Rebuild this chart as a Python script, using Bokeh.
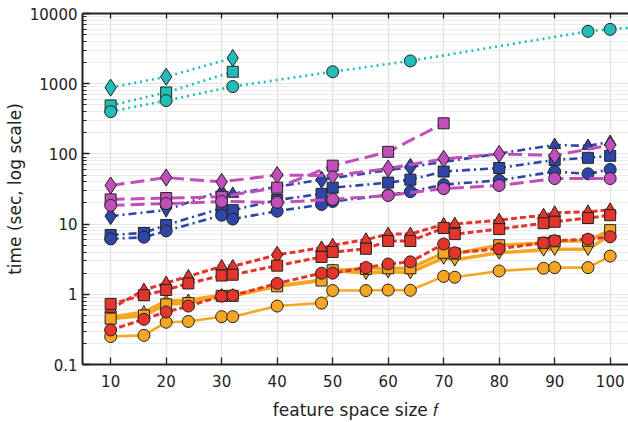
from bokeh.plotting import figure
from bokeh.models import FixedTicker, LinearAxis, CustomJSTickFormatter
from bokeh.embed import file_html
from bokeh.resources import INLINE

# ---------------- data ----------------
x_ticks = [10, 20, 30, 40, 50, 60, 70, 80, 90, 100]
x_tick_labels = ["10", "20", "30", "40", "50", "60", "70", "80", "90", "100"]
y_ticks = [0.1, 1, 10, 100, 1000, 10000]
y_tick_labels = ["0.1", "1", "10", "100", "1000", "10000"]

# orange (solid)
orange_x = [10, 16, 20, 24, 30, 32, 40, 48, 50, 56, 60, 64, 70, 72, 80, 88, 90, 96, 100]
orange_circ = [0.25, 0.26, 0.40, 0.41, 0.48, 0.48, 0.68, 0.75, 1.13, 1.13, 1.15, 1.14, 1.8, 1.75, 2.15, 2.35, 2.4, 2.4, 3.5]
orange_sq = [0.45, 0.5, 0.72, 0.75, 0.95, 0.95, 1.3, 1.57, 2.2, 2.3, 2.35, 2.35, 3.9, 3.8, 5.0, 5.4, 5.7, 5.8, 8.2]
orange_tri = [0.47, 0.56, 0.8, 0.82, 0.98, 0.98, 1.3, 1.6, 2.2, 2.0, 2.1, 2.05, 3.3, 3.1, 3.9, 4.3, 4.4, 4.4, 7.0]
orange_tri_up_x = [10, 16, 20, 24, 30, 32, 40, 48, 50]
orange_tri_up = [0.47, 0.56, 0.8, 0.82, 0.98, 0.98, 1.3, 1.6, 2.2]
orange_tri_dn_x = [56, 60, 64, 70, 72, 80, 88, 90, 96, 100]
orange_tri_dn = [2.0, 2.1, 2.05, 3.3, 3.1, 3.9, 4.3, 4.4, 4.4, 7.0]

# red (dashed)
red_x = [10, 16, 20, 24, 30, 32, 40, 48, 50, 56, 60, 64, 70, 72, 80, 88, 90, 96, 100]
red_circ = [0.31, 0.44, 0.56, 0.68, 0.94, 0.96, 1.43, 2.0, 2.0, 2.4, 2.7, 2.9, 5.2, 3.9, 4.45, 5.4, 5.8, 6.1, 6.6]
red_sq = [0.73, 0.97, 1.15, 1.43, 1.85, 1.9, 2.56, 3.4, 4.0, 4.45, 5.75, 5.75, 8.8, 7.2, 8.5, 10.3, 10.8, 12.2, 13.4]
red_top = [0.62, 1.15, 1.45, 1.8, 2.5, 2.5, 3.65, 4.6, 5.0, 6.0, 7.2, 7.2, 9.9, 10.0, 11.4, 13.4, 14.5, 15.0, 16.0]
red_tri_x = [10, 16, 20, 24, 30, 32, 48, 50, 56, 60, 64, 70, 72, 80, 88, 90, 96, 100]
red_tri = [0.62, 1.15, 1.45, 1.8, 2.5, 2.5, 4.6, 5.0, 6.0, 7.2, 7.2, 9.9, 10.0, 11.4, 13.4, 14.5, 15.0, 16.0]
red_dia_x = [40]
red_dia = [3.65]

# blue (dash-dot)
blue_x = [10, 16, 20, 30, 32, 40, 48, 50, 60, 64, 70, 80, 90, 96, 100]
blue_circ = [6.15, 6.5, 8.0, 13.4, 11.8, 15.3, 19.0, 21.0, 26.0, 29.0, 36.5, 42.0, 56.0, 52.0, 60.0]
blue_sq = [7.0, 7.5, 9.7, 16.8, 15.8, 22.0, 27.0, 33.0, 39.0, 43.0, 56.0, 63.0, 82.0, 88.0, 94.0]
blue_top_x = [10, 20, 30, 32, 48, 64, 90, 96, 100]
blue_top = [13.0, 15.8, 30.0, 27.0, 43.0, 65.0, 134.0, 130.0, 148.0]
blue_dia_x = [10, 48, 64]
blue_dia = [13.0, 43.0, 65.0]
blue_dn_x = [20]
blue_dn = [15.8]
blue_up_x = [30, 32, 90, 96, 100]
blue_up = [30.0, 27.0, 134.0, 130.0, 148.0]

# magenta (long dashed)
mag_x = [10, 20, 30, 40, 50, 60, 70, 80, 90, 100]
mag_dia = [35.5, 46.0, 40.0, 50.0, 49.0, 62.0, 85.0, 100.0, 95.0, 134.0]
mag_circ = [18.5, 19.6, 21.0, 20.4, 22.5, 25.6, 32.0, 35.5, 44.5, 44.5]
mag_sq_x = [10, 20, 30, 40, 50, 60, 70]
mag_sq = [22.5, 23.5, 24.5, 33.0, 68.0, 107.0, 273.0]

# cyan (dotted)
cyan_x3 = [10, 20, 32]
cyan_dia = [880, 1255, 2320]
cyan_sq = [490, 750, 1480]
cyan_circ_x = [10, 20, 32, 50, 64, 96, 100, 128]
cyan_circ = [400, 575, 910, 1480, 2110, 5570, 5950, 9000]

x_label = "feature space size \U0001D453"
y_label = "time (sec, log scale)"

# ---------------- styles ----------------
C_ORANGE = "#F5A623"
C_RED = "#E3352B"
C_BLUE = "#2E47A6"
C_MAG = "#C04FBA"
C_CYAN = "#22BDB8"
EDGE = "#222222"
FONT = "DejaVu Sans"

p = figure(width=628, height=422, y_axis_type="log",
           x_range=(4.93, 103.3), y_range=(0.1, 10000),
           output_backend="svg", toolbar_location=None,
           min_border_left=82, min_border_top=13, min_border_right=0, min_border_bottom=55)
p.outline_line_color = None
p.background_fill_color = "white"

# grids
p.xgrid.grid_line_color = "#e4e4e4"
p.xgrid.grid_line_width = 1.5
p.ygrid.grid_line_color = "#e4e4e4"
p.ygrid.grid_line_width = 1.2
p.ygrid.minor_grid_line_color = "#ebebeb"
p.ygrid.minor_grid_line_width = 1.2

y_minor = [m * 10 ** e for e in range(-1, 4) for m in range(2, 10)]
yt = FixedTicker(ticks=y_ticks, minor_ticks=y_minor)
xt = FixedTicker(ticks=x_ticks)

fmt_y = CustomJSTickFormatter(code="return tick < 1 ? tick.toFixed(1) : tick.toFixed(0);")
fmt_blank = CustomJSTickFormatter(code="return '';")

def style_axis(ax):
    ax.axis_line_color = EDGE
    ax.axis_line_width = 2
    ax.major_tick_line_color = EDGE
    ax.minor_tick_line_color = EDGE
    ax.major_tick_line_width = 1.3
    ax.minor_tick_line_width = 1.1
    ax.major_tick_in = 7
    ax.major_tick_out = 0
    ax.minor_tick_in = 4
    ax.minor_tick_out = 0
    ax.major_label_text_font = FONT
    ax.major_label_text_font_size = "15px"
    ax.major_label_text_color = "#222222"
    ax.axis_label_text_font = FONT
    ax.axis_label_text_font_size = "17px"
    ax.axis_label_text_font_style = "normal"
    ax.axis_label_text_color = "#222222"

p.xaxis.ticker = xt
p.xaxis.major_label_overrides = {v: s for v, s in zip(x_ticks, x_tick_labels)}
p.yaxis.ticker = yt
p.yaxis.formatter = fmt_y
style_axis(p.xaxis[0])
style_axis(p.yaxis[0])
p.xaxis.major_label_standoff = 10
p.yaxis.major_label_standoff = 5
p.xaxis.axis_label = x_label
p.xaxis.axis_label_standoff = 10
p.yaxis.axis_label = y_label
p.yaxis.axis_label_standoff = 2

top = LinearAxis(ticker=FixedTicker(ticks=x_ticks), formatter=fmt_blank)
style_axis(top)
top.major_tick_in = 5
top.major_label_standoff = 0
p.add_layout(top, "above")

def marks(x, y, color, marker, size):
    p.scatter(x, y, marker=marker, size=size, fill_color=color, line_color=EDGE, line_width=1)

# cyan
for ys, xs in ((cyan_dia, cyan_x3), (cyan_sq, cyan_x3), (cyan_circ, cyan_circ_x)):
    p.line(xs, ys, line_color=C_CYAN, line_width=2.6, line_dash="2 4")
marks(cyan_x3, cyan_dia, C_CYAN, "diamond", 17)
marks(cyan_x3, cyan_sq, C_CYAN, "square", 11)
marks(cyan_circ_x, cyan_circ, C_CYAN, "circle", 12)

# blue
BD = "8 4 2 4"
p.line(blue_top_x, blue_top, line_color=C_BLUE, line_width=2.6, line_dash=BD)
marks(blue_dia_x, blue_dia, C_BLUE, "diamond", 17)
marks(blue_dn_x, blue_dn, C_BLUE, "inverted_triangle", 12)
marks(blue_up_x, blue_up, C_BLUE, "triangle", 12)
p.line(blue_x, blue_sq, line_color=C_BLUE, line_width=2.6, line_dash=BD)
marks(blue_x, blue_sq, C_BLUE, "square", 11)
p.line(blue_x, blue_circ, line_color=C_BLUE, line_width=2.6, line_dash=BD)
marks(blue_x, blue_circ, C_BLUE, "circle", 12)

# magenta
MD = "14 6"
p.line(mag_x, mag_dia, line_color=C_MAG, line_width=3, line_dash=MD)
marks(mag_x, mag_dia, C_MAG, "diamond", 17)
p.line(mag_sq_x, mag_sq, line_color=C_MAG, line_width=3, line_dash=MD)
marks(mag_sq_x, mag_sq, C_MAG, "square", 11)
p.line(mag_x, mag_circ, line_color=C_MAG, line_width=3, line_dash=MD)
marks(mag_x, mag_circ, C_MAG, "circle", 12)

# orange
p.line(orange_x, orange_tri, line_color=C_ORANGE, line_width=3.5)
marks(orange_tri_up_x, orange_tri_up, C_ORANGE, "triangle", 11)
marks(orange_tri_dn_x, orange_tri_dn, C_ORANGE, "inverted_triangle", 11)
p.line(orange_x, orange_sq, line_color=C_ORANGE, line_width=3.5)
marks(orange_x, orange_sq, C_ORANGE, "square", 11)
p.line(orange_x, orange_circ, line_color=C_ORANGE, line_width=2.6)
marks(orange_x, orange_circ, C_ORANGE, "circle", 12)

# red
RD = "6 3"
p.line(red_x, red_top, line_color=C_RED, line_width=3, line_dash=RD)
marks(red_tri_x, red_tri, C_RED, "triangle", 12)
marks(red_dia_x, red_dia, C_RED, "diamond", 17)
p.line(red_x, red_sq, line_color=C_RED, line_width=3, line_dash=RD)
marks(red_x, red_sq, C_RED, "square", 11)
p.line(red_x, red_circ, line_color=C_RED, line_width=3, line_dash=RD)
marks(red_x, red_circ, C_RED, "circle", 12)

open("out.html", "w").write(file_html(p, INLINE))
